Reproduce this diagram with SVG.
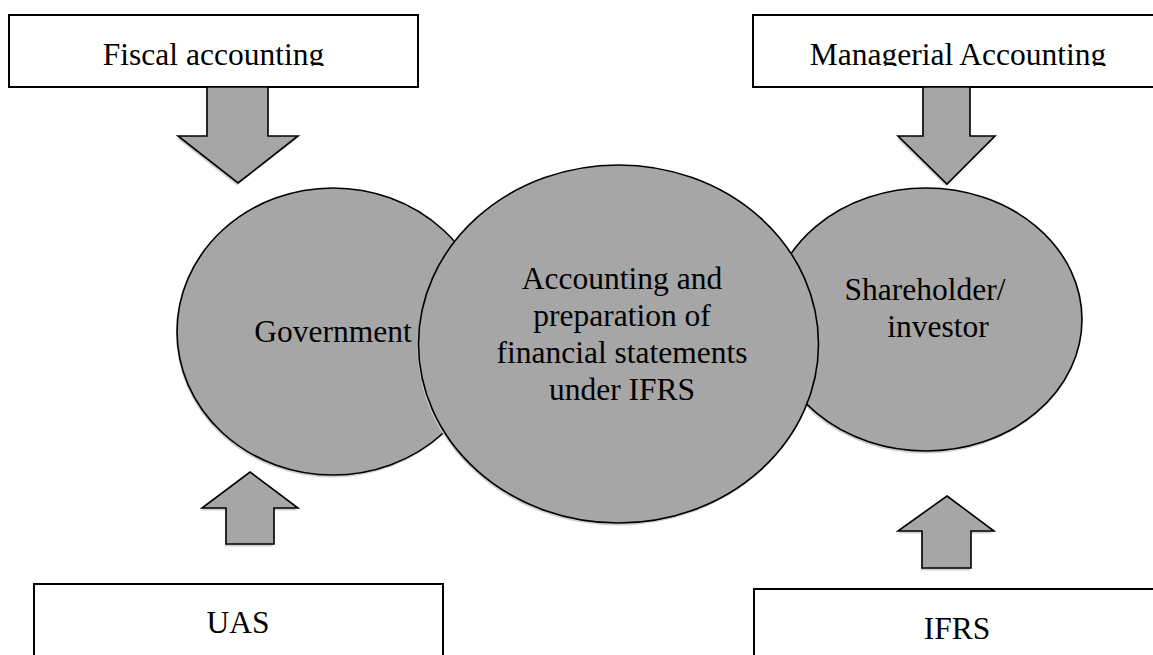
<svg xmlns="http://www.w3.org/2000/svg" width="1153" height="655" viewBox="0 0 1153 655">
<style>
.box{fill:#ffffff;stroke:#000000;stroke-width:2}
.shape{fill:#a6a6a6;stroke:#000000;stroke-width:1.6}
.shadow{fill:#cfcfcf;stroke:none}
.lbl{font-family:"Liberation Serif","Times New Roman",serif;font-size:31.5px;fill:#000000}
</style>
<defs>
<clipPath id="topclip"><rect x="0" y="15" width="1153" height="51"/></clipPath>
</defs>
<rect width="1153" height="655" fill="#ffffff"/>

<g id="fiscal-box">
<rect class="box" x="9" y="15" width="409" height="72"/>
<text class="lbl" x="213.5" y="64.5" text-anchor="middle" clip-path="url(#topclip)">Fiscal accounting</text>
</g>

<g id="managerial-box">
<rect class="box" x="753" y="15" width="420" height="72"/>
<text class="lbl" x="958" y="64.5" text-anchor="middle" clip-path="url(#topclip)">Managerial Accounting</text>
</g>

<g id="uas-box">
<rect class="box" x="34" y="584" width="409" height="90"/>
<text class="lbl" x="238" y="633" text-anchor="middle">UAS</text>
</g>

<g id="ifrs-box">
<rect class="box" x="754" y="589" width="420" height="90"/>
<text class="lbl" x="957" y="639" text-anchor="middle">IFRS</text>
</g>

<g id="government">
<ellipse class="shadow" cx="332" cy="334" rx="156" ry="143.5"/>
<ellipse class="shape" cx="333" cy="331.5" rx="156" ry="143.5"/>
<text class="lbl" x="333" y="342" text-anchor="middle">Government</text>
</g>

<g id="shareholder">
<ellipse class="shadow" cx="925" cy="322" rx="156" ry="131.5"/>
<ellipse class="shape" cx="926" cy="319.5" rx="156" ry="131.5"/>
<text class="lbl" x="925" y="300" text-anchor="middle">Shareholder/</text>
<text class="lbl" x="938" y="337" text-anchor="middle">investor</text>
</g>

<g id="ifrs-accounting">
<ellipse class="shadow" cx="617.5" cy="346.5" rx="200" ry="179"/>
<ellipse class="shape" cx="618.5" cy="344" rx="200" ry="179"/>
<text class="lbl" x="622" y="289" text-anchor="middle">Accounting and</text>
<text class="lbl" x="622" y="326" text-anchor="middle">preparation of</text>
<text class="lbl" x="622" y="363" text-anchor="middle">financial statements</text>
<text class="lbl" x="622" y="400" text-anchor="middle">under IFRS</text>
</g>

<g id="connectors">
<g transform="translate(-1,2.5)">
<polygon class="shadow" points="207,87 268,87 268,136 298,136 238,183 178,136 207,136"/>
<polygon class="shadow" points="923,87 970,87 970,136 995,136 947,184 898,136 923,136"/>
<polygon class="shadow" points="250,472 298,508 274,508 274,544 226,544 226,508 202,508"/>
<polygon class="shadow" points="947,496 994,531 971,531 971,568 922,568 922,531 898,531"/>
</g>
<polygon class="shape" points="207,87 268,87 268,136 298,136 238,183 178,136 207,136"/>
<polygon class="shape" points="923,87 970,87 970,136 995,136 947,184 898,136 923,136"/>
<polygon class="shape" points="250,472 298,508 274,508 274,544 226,544 226,508 202,508"/>
<polygon class="shape" points="947,496 994,531 971,531 971,568 922,568 922,531 898,531"/>
</g>
</svg>
